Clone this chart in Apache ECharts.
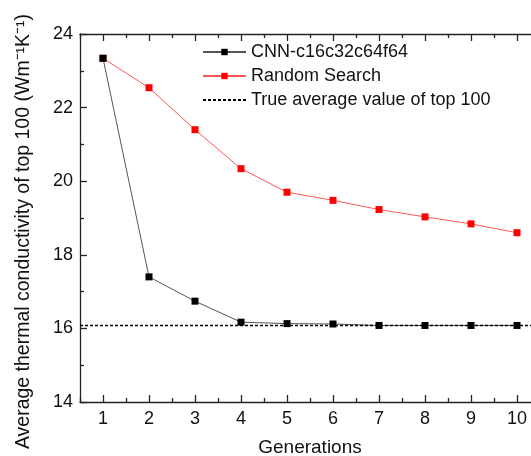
<!DOCTYPE html>
<html>
<head>
<meta charset="utf-8">
<script src="https://cdn.jsdelivr.net/npm/echarts@6/dist/echarts.min.js"></script>
<style>html,body{margin:0;padding:0;background:#fff;}#c{width:531px;height:456px;}</style>
</head>
<body>
<div id="c"></div>
<script>
var generations = ['1','2','3','4','5','6','7','8','9','10'];
var cnnValues = [23.34, 17.40, 16.74, 16.17, 16.13, 16.12, 16.08, 16.08, 16.08, 16.08];
var randomValues = [23.34, 22.54, 21.40, 20.34, 19.70, 19.48, 19.23, 19.03, 18.84, 18.60];
var trueAverage = 16.08;
var seriesNames = ['CNN-c16c32c64f64', 'Random Search', 'True average value of top 100'];
var yTitle = 'Average thermal conductivity of top 100 (Wm\u207B\u00B9K\u207B\u00B9)';
var xTitle = 'Generations';

var FONT = 'Liberation Sans, Arial, sans-serif';
var AX = '#222';
var chart = echarts.init(document.getElementById('c'), null, {renderer: 'canvas'});

function xAxisDef(pos, major, showLabel) {
  return {
    type: 'category', data: generations, position: pos, boundaryGap: true,
    axisLine: {show: major, onZero: false, lineStyle: {color: AX, width: 1.3}},
    axisTick: {show: true, inside: true, alignWithLabel: major, length: major ? 7 : 4, lineStyle: {color: AX, width: 1.3}},
    axisLabel: {show: showLabel, margin: 8, color: '#111', fontFamily: FONT, fontSize: 18},
    splitLine: {show: false}
  };
}

var xAxes = [xAxisDef('bottom', true, true), xAxisDef('bottom', false, false), xAxisDef('top', true, false), xAxisDef('top', false, false)];
xAxes[0].name = xTitle;
xAxes[0].nameLocation = 'middle';
xAxes[0].nameGap = 36;
xAxes[0].nameTextStyle = {color: '#111', fontFamily: FONT, fontSize: 19};

chart.setOption({
  animation: false,
  backgroundColor: '#fff',
  grid: {left: 80, top: 34, right: -9, bottom: 54, containLabel: false, outerBoundsMode: 'none'},
  legend: {
    orient: 'vertical', left: 202, top: 43, padding: 0, itemGap: 6,
    itemWidth: 43, itemHeight: 8,
    textStyle: {color: '#111', fontFamily: FONT, fontSize: 18},
    data: [
      {name: seriesNames[0]},
      {name: seriesNames[1]},
      {name: seriesNames[2], itemStyle: {opacity: 0}}
    ]
  },
  xAxis: xAxes,
  yAxis: [{
    type: 'value', min: 14, max: 24, interval: 2, position: 'left',
    name: yTitle, nameLocation: 'middle', nameGap: 46,
    nameTextStyle: {color: '#111', fontFamily: FONT, fontSize: 19.5, padding: [0, 27, 0, 0]},
    axisLine: {show: true, lineStyle: {color: AX, width: 1.3}},
    axisTick: {show: true, inside: true, length: 7, lineStyle: {color: AX, width: 1.3}},
    minorTick: {show: true, splitNumber: 2, length: 4, lineStyle: {color: AX, width: 1.3}},
    axisLabel: {margin: 7, color: '#111', fontFamily: FONT, fontSize: 18},
    splitLine: {show: false}, minorSplitLine: {show: false}
  }],
  series: [
    {
      name: seriesNames[0], type: 'line', data: cnnValues, xAxisIndex: 0,
      symbol: 'rect', symbolSize: 7, z: 4,
      itemStyle: {color: '#000'},
      lineStyle: {color: '#555', width: 1}
    },
    {
      name: seriesNames[1], type: 'line', data: randomValues, xAxisIndex: 0,
      symbol: 'rect', symbolSize: 7, z: 3,
      itemStyle: {color: '#ff0000'},
      lineStyle: {color: '#ff5555', width: 1}
    },
    {
      name: seriesNames[2], type: 'line', data: [], xAxisIndex: 0,
      symbol: 'none', z: 2,
      itemStyle: {color: '#000'},
      lineStyle: {color: '#000', width: 1.3, type: [3, 2]},
      markLine: {
        silent: true, symbol: 'none', label: {show: false},
        lineStyle: {color: '#000', width: 1.3, type: [3, 2]},
        data: [{yAxis: trueAverage}]
      }
    }
  ]
});
</script>
</body>
</html>
